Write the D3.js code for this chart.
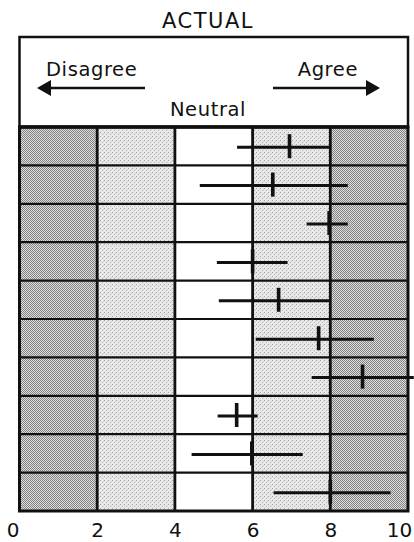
<!DOCTYPE html>
<html><head><meta charset="utf-8">
<script src="https://cdn.jsdelivr.net/npm/d3@7"></script>
<style>html,body{margin:0;padding:0;background:#fff;}svg{display:block;}</style>
</head><body>
<svg id="chart" width="414" height="542"></svg>
<script>
// Data
const items = ["1","2","3","4","5","6","7","8","9","10"];
const lowValues  = [5.6, 4.64, 7.39, 5.08, 5.13, 6.08, 7.52, 5.10, 4.43, 6.54];
const highValues = [8.0, 8.45, 8.45, 6.90, 8.0, 9.12, 10.15, 6.13, 7.29, 9.55];
const meanValues = [6.95, 6.52, 7.97, 6.0, 6.67, 7.70, 8.83, 5.59, 5.98, 8.0];
const tickValues = [0, 2, 4, 6, 8, 10];
const bandEdges = [0, 2, 4, 6, 8, 10];
const bandShades = ["dark", "light", "none", "light", "dark"];
const title = "ACTUAL";

const svg = d3.select("#chart");
const font = "'DejaVu Sans', sans-serif";

const x = d3.scaleLinear().domain([0, 10]).range([19.5, 408]);
const y = d3.scaleBand().domain(items).range([127, 511]).padding(0);

const defs = svg.append("defs");
const pd = defs.append("pattern").attr("id","dark").attr("width",2).attr("height",2).attr("patternUnits","userSpaceOnUse");
pd.append("rect").attr("width",2).attr("height",2).attr("fill","#dcdcdc");
pd.append("rect").attr("width",1).attr("height",1).attr("fill","#848484");
pd.append("rect").attr("x",1).attr("y",1).attr("width",1).attr("height",1).attr("fill","#848484");
const pl = defs.append("pattern").attr("id","light").attr("width",4).attr("height",4).attr("patternUnits","userSpaceOnUse");
pl.append("rect").attr("width",4).attr("height",4).attr("fill","#e8e8e8");
pl.append("rect").attr("x",0).attr("y",0).attr("width",1).attr("height",1).attr("fill","#a4a4a4");
pl.append("rect").attr("x",2).attr("y",2).attr("width",1).attr("height",1).attr("fill","#b8b8b8");
pl.append("rect").attr("x",3).attr("y",1).attr("width",1).attr("height",1).attr("fill","#d0d0d0");

// Title
svg.append("text").attr("x", 208).attr("y", 28).attr("text-anchor","middle")
  .attr("font-family", font).attr("font-size", 21).attr("letter-spacing", 1.5).attr("fill","#111").text(title);

// Header box
const headTop = 37;
svg.append("rect").attr("x", x(0)).attr("y", headTop).attr("width", x(10)-x(0)).attr("height", y.range()[0]-headTop)
  .attr("fill","#fff").attr("stroke","#111").attr("stroke-width",2.5);
svg.append("text").attr("x", 46).attr("y", 76).attr("font-family", font).attr("font-size", 19.5).attr("letter-spacing", 0.6).attr("fill","#111").text("Disagree");
svg.append("text").attr("x", 358).attr("y", 76).attr("text-anchor","end").attr("font-family", font).attr("font-size", 19.5).attr("letter-spacing", 0.6).attr("fill","#111").text("Agree");
svg.append("text").attr("x", 208).attr("y", 116).attr("text-anchor","middle").attr("font-family", font).attr("font-size", 19.5).attr("letter-spacing", 0.6).attr("fill","#111").text("Neutral");
// arrows
svg.append("line").attr("x1", 48).attr("x2", 145).attr("y1", 88).attr("y2", 88).attr("stroke","#111").attr("stroke-width",2.5);
svg.append("path").attr("d","M37,88 L51,80 L51,96 Z").attr("fill","#111");
svg.append("line").attr("x1", 273).attr("x2", 368).attr("y1", 88).attr("y2", 88).attr("stroke","#111").attr("stroke-width",2.5);
svg.append("path").attr("d","M380,88 L366,80 L366,96 Z").attr("fill","#111");

// Bands
const bands = d3.range(bandShades.length).map(i => ({a: bandEdges[i], b: bandEdges[i+1], s: bandShades[i]}));
svg.append("g").selectAll("rect").data(bands).join("rect")
  .attr("x", d => x(d.a)).attr("width", d => x(d.b)-x(d.a))
  .attr("y", y.range()[0]).attr("height", y.range()[1]-y.range()[0])
  .attr("fill", d => d.s === "none" ? "#fff" : `url(#${d.s})`);

// Row lines
svg.append("g").selectAll("line").data(items.slice(1)).join("line")
  .attr("x1", x(0)).attr("x2", x(10)).attr("y1", d => y(d)).attr("y2", d => y(d))
  .attr("stroke","#111").attr("stroke-width",2.2);
// Vertical band lines
svg.append("g").selectAll("line").data(bandEdges.slice(1,-1)).join("line")
  .attr("x1", d => x(d)).attr("x2", d => x(d)).attr("y1", y.range()[0]).attr("y2", y.range()[1])
  .attr("stroke","#111").attr("stroke-width",2.8);
// Frame
svg.append("rect").attr("x", x(0)).attr("y", y.range()[0]).attr("width", x(10)-x(0)).attr("height", y.range()[1]-y.range()[0])
  .attr("fill","none").attr("stroke","#111").attr("stroke-width",3);
svg.append("line").attr("x1", x(0)).attr("x2", x(10)).attr("y1", y.range()[0]).attr("y2", y.range()[0]).attr("stroke","#111").attr("stroke-width",3.5);

// Ranges and means
const rows = items.map((k,i) => ({k, lo: lowValues[i], hi: highValues[i], m: meanValues[i]}));
const g = svg.append("g");
g.selectAll("line.range").data(rows).join("line").attr("class","range")
  .attr("x1", d => x(d.lo)).attr("x2", d => x(d.hi))
  .attr("y1", d => y(d.k) + y.bandwidth()/2 + 1).attr("y2", d => y(d.k) + y.bandwidth()/2 + 1)
  .attr("stroke","#111").attr("stroke-width",3);
g.selectAll("line.mean").data(rows).join("line").attr("class","mean")
  .attr("x1", d => x(d.m)).attr("x2", d => x(d.m))
  .attr("y1", d => y(d.k) + y.bandwidth()/2 - 12).attr("y2", d => y(d.k) + y.bandwidth()/2 + 12)
  .attr("stroke","#111").attr("stroke-width",3.6);

// Axis
const axis = svg.append("g").attr("transform", `translate(0,${y.range()[1]})`)
  .call(d3.axisBottom(x).tickValues(tickValues).tickSize(0).tickPadding(12).tickFormat(d3.format("d")));
axis.select(".domain").remove();
axis.selectAll("text").attr("font-family", font).attr("font-size", 20).attr("fill","#111").attr("dy","0.71em")
  .attr("dx", d => d === 0 ? -7 : d === 10 ? -9 : 0);
</script>
</body></html>
